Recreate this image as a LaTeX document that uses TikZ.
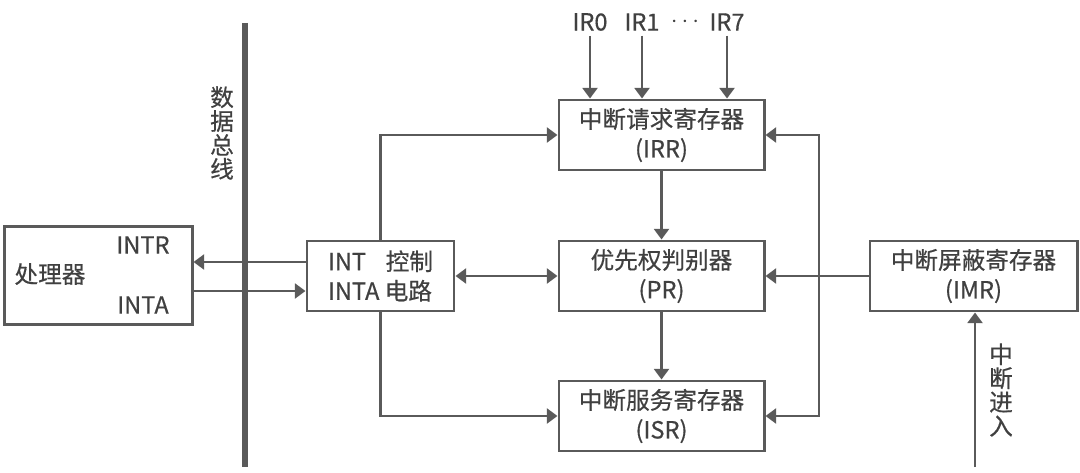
\documentclass[tikz,border=0pt]{standalone}
\usepackage{fontspec}
\setmainfont{Noto Sans CJK SC}[FakeBold=0.5]
\usetikzlibrary{arrows.meta}
\definecolor{linegray}{HTML}{5A5A5A}
\definecolor{textgray}{HTML}{404040}

\begin{document}
\begin{tikzpicture}[x=0.025cm, y=-0.025cm, >={Triangle[length=7.5pt,width=10.5pt]},
    every node/.style={text=textgray, font=\fontsize{16.8}{21}\selectfont},
    box/.style={draw=linegray, line width=2.1pt, align=center, inner sep=0pt,
        minimum width=#1, minimum height=1.75cm},
    box/.default=5.125cm,
    conn/.style={draw=linegray, line width=2.1pt, ->},
    vlabel/.style={align=center, font=\fontsize{16.8}{17}\selectfont}]
    \useasboundingbox (0,0) rectangle (1080,473);

    % Processor on the left of the data bus.
    \node[box=4.675cm, minimum height=2.45cm] (proc) at (98.5,275.5) {};
    \node (proclbl) at (50,274) {处理器};
    \node (intr) at (143,245) {INTR};
    \node (inta) at (143,305) {INTA};

    % Blocks of the interrupt controller.
    \node[box=3.675cm, align=left] (ctrl) at (380.5,276) {INT\phantom{A} 控制\\INTA 电路};
    \node[box] (irr) at (661.5,135) {中断请求寄存器\\(IRR)};
    \node[box] (pr) at (661.5,276) {优先权判别器\\(PR)};
    \node[box] (isr) at (661.5,416) {中断服务寄存器\\(ISR)};
    \node[box=5.175cm] (imr) at (973.5,276) {中断屏蔽寄存器\\(IMR)};

    % Data bus.
    \coordinate (bustop) at (245,23);
    \coordinate (busbot) at (245,467);
    \node[vlabel] (buslbl) at (222,133) {数\\据\\总\\线};

    % Request lines IR0..IR7.
    \node (ir0) at (590,22) {IR0};
    \node (ir1) at (642,22) {IR1};
    \node (irdots) at (685,22) {$\cdots$};
    \node (ir7) at (727,22) {IR7};
    \foreach \n in {ir0,ir1,ir7}
        \draw[conn] (\n.south) -- (\n.south |- irr.north);

    % INTR / INTA between processor and control.
    \coordinate (intrpt) at ([yshift=0.35cm]ctrl.west);
    \coordinate (intapt) at ([yshift=-0.375cm]ctrl.west);
    \draw[conn] (intrpt) -- (intrpt -| proc.east);
    \draw[conn] (intapt -| proc.east) -- (intapt);
    \draw[linegray, line width=4.3pt] (bustop) -- (busbot);

    \draw[conn] (ctrl.north) |- (irr.west);
    \draw[conn] (ctrl.south) |- (isr.west);
    \draw[conn, <->] (ctrl.east) -- (pr.west);
    \draw[conn] (irr.south) -- (pr.north);
    \draw[conn] (pr.south) -- (isr.north);
    \draw[conn] (imr.west) -- (pr.east);

    \coordinate (loop) at (819,276);
    \draw[conn, <->] (irr.east) -| (loop) |- (isr.east);

    % Interrupt input into the mask register.
    \coordinate (irqin) at (975,467);
    \draw[conn] (irqin) -- (irqin |- imr.south);
    \node[vlabel] (inlbl) at (1001,390) {中\\断\\进\\入};
\end{tikzpicture}
\end{document}
